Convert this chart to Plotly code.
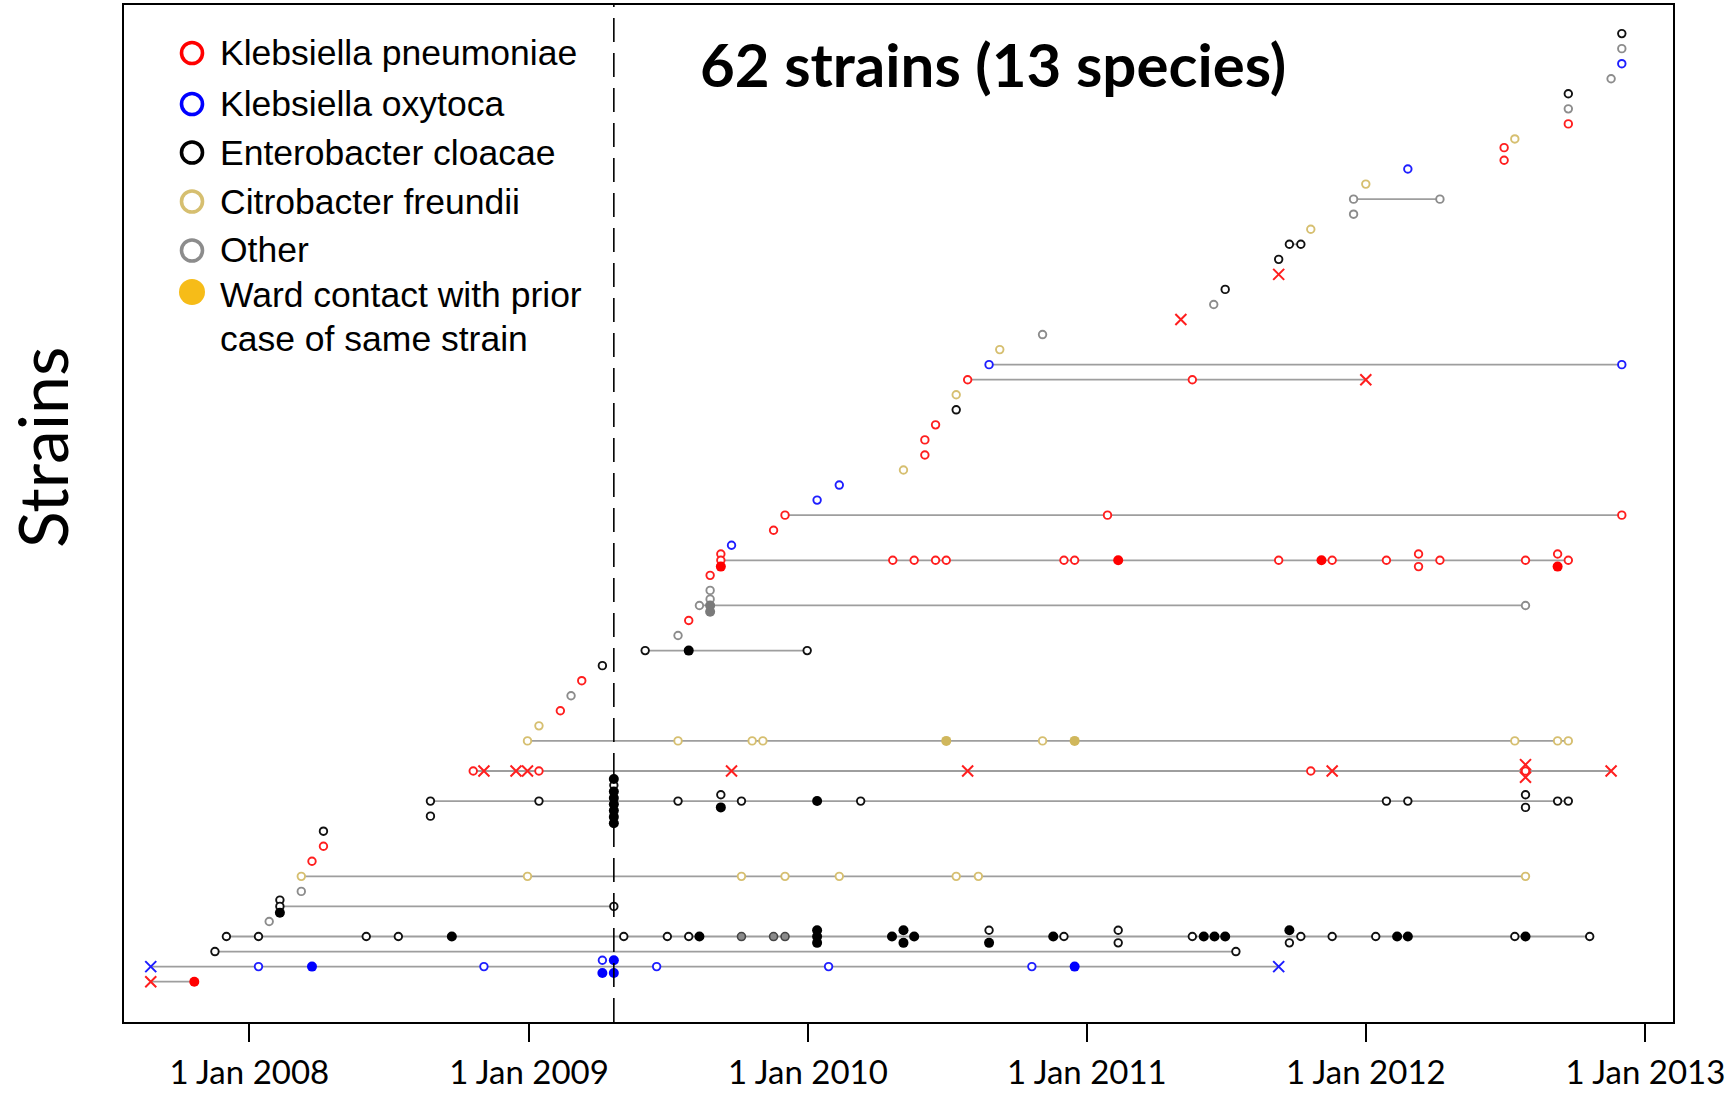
import plotly.graph_objects as go

# ---------------- data ----------------
species_names = ["Klebsiella pneumoniae", "Klebsiella oxytoca", "Enterobacter cloacae",
                 "Citrobacter freundii", "Other"]
species_codes = ["Kp", "Ko", "Ec", "Cf", "Ot"]

title_text = "62 strains (13 species)"
y_title = "Strains"
legend_extra = ["Ward contact with prior", "case of same strain"]

year_ticks = ["2008-01-01", "2009-01-01", "2010-01-01", "2011-01-01", "2012-01-01", "2013-01-01"]
year_labels = ["1 Jan 2008", "1 Jan 2009", "1 Jan 2010", "1 Jan 2011", "1 Jan 2012", "1 Jan 2013"]
intervention_date = "2009-04-22"

# strain row index (bottom = 0) and species
strain_row = [0, 1, 2, 3, 4, 5, 6, 7, 8, 9, 10, 11, 12, 14, 16, 17, 18, 19, 20, 21, 22, 23, 24,
              25, 26, 27, 28, 29, 30, 31, 32, 33, 34, 35, 36, 37, 38, 39, 40, 41, 42, 43, 44, 45,
              46, 47, 48, 49, 50, 51, 52, 53, 54, 55, 56, 57, 58, 59, 60, 61, 62, 63]
strain_species = ["Kp", "Ko", "Ec", "Ec", "Ot", "Ec", "Ot", "Cf", "Kp", "Kp", "Ec", "Ec", "Ec",
                  "Kp", "Cf", "Cf", "Kp", "Ot", "Kp", "Ec", "Ec", "Ot", "Kp", "Ot", "Ot", "Kp",
                  "Kp", "Ko", "Kp", "Kp", "Ko", "Ko", "Cf", "Kp", "Kp", "Kp", "Ec", "Cf", "Kp",
                  "Ko", "Cf", "Ot", "Kp", "Ot", "Ec", "Kp", "Ec", "Ec", "Cf", "Ot", "Ot", "Cf",
                  "Ko", "Kp", "Cf", "Kp", "Ot", "Ec", "Ot", "Ko", "Ot", "Ec"]

# isolate dates per strain; kind: o = isolate, f = ward contact with prior case,
# x = cross-marked isolate, g = grey-filled isolate (spaces only group same-day isolates)
strain_dates = [
    ["2007-08-25", "2007-10-21"],
    ["2007-08-25", "2008-01-13", "2008-03-23", "2008-11-03", "2009-04-07", "2009-04-07",
     "2009-04-22", "2009-04-22", "2009-06-17", "2010-01-28", "2010-10-21", "2010-12-16", "2011-09-09"],
    ["2007-11-17", "2011-07-15"],
    ["2007-12-02", "2008-01-13", "2008-06-02", "2008-07-14", "2008-09-22", "2009-05-05",
     "2009-07-01", "2009-07-29", "2009-08-12", "2009-10-06", "2009-11-17", "2009-12-02",
     "2010-01-13", "2010-01-13", "2010-01-13", "2010-04-21", "2010-05-06", "2010-05-06",
     "2010-05-20", "2010-08-26", "2010-08-26", "2010-11-18", "2010-12-02", "2011-02-11",
     "2011-02-11", "2011-05-19", "2011-06-03", "2011-06-17", "2011-07-01", "2011-09-23",
     "2011-09-23", "2011-10-08", "2011-11-18", "2012-01-14", "2012-02-11", "2012-02-25",
     "2012-07-14", "2012-07-28", "2012-10-20"],
    ["2008-01-27"],
    ["2008-02-10", "2008-02-10", "2008-02-10", "2009-04-22"],
    ["2008-03-09"],
    ["2008-03-09", "2008-12-30", "2009-10-06", "2009-12-02", "2010-02-11", "2010-07-14",
     "2010-08-12", "2012-07-28"],
    ["2008-03-23"],
    ["2008-04-07"],
    ["2008-04-07"],
    ["2008-08-25"],
    ["2008-08-25", "2009-01-14", "2009-04-22", "2009-04-22", "2009-04-22", "2009-04-22",
     "2009-04-22", "2009-04-22", "2009-04-22", "2009-04-22", "2009-07-15", "2009-09-09",
     "2009-09-09", "2009-10-06", "2010-01-13", "2010-03-11", "2012-01-28", "2012-02-25",
     "2012-07-28", "2012-07-28", "2012-09-08", "2012-09-22"],
    ["2008-10-20", "2008-11-03", "2008-12-15", "2008-12-30", "2009-01-14", "2009-09-23",
     "2010-07-29", "2011-10-21", "2011-11-18", "2012-07-28", "2012-07-28", "2012-07-28", "2012-11-17"],
    ["2008-12-30", "2009-07-15", "2009-10-20", "2009-11-03", "2010-07-01", "2010-11-04",
     "2010-12-16", "2012-07-14", "2012-09-08", "2012-09-22"],
    ["2009-01-14"],
    ["2009-02-11"],
    ["2009-02-25"],
    ["2009-03-11"],
    ["2009-04-07"],
    ["2009-06-02", "2009-07-29", "2009-12-31"],
    ["2009-07-15"],
    ["2009-07-29"],
    ["2009-08-12", "2009-08-26", "2009-08-26", "2009-08-26", "2012-07-28"],
    ["2009-08-26"],
    ["2009-08-26"],
    ["2009-09-09", "2009-09-09", "2009-09-09", "2010-04-22", "2010-05-20", "2010-06-17",
     "2010-07-01", "2010-12-02", "2010-12-16", "2011-02-11", "2011-09-09", "2011-11-04",
     "2011-11-18", "2012-01-28", "2012-03-10", "2012-03-10", "2012-04-07", "2012-07-28",
     "2012-09-08", "2012-09-08", "2012-09-22"],
    ["2009-09-23"],
    ["2009-11-17"],
    ["2009-12-02", "2011-01-28", "2012-12-01"],
    ["2010-01-13"],
    ["2010-02-11"],
    ["2010-05-06"],
    ["2010-06-03"],
    ["2010-06-03"],
    ["2010-06-17"],
    ["2010-07-14"],
    ["2010-07-14"],
    ["2010-07-29", "2011-05-19", "2012-01-01"],
    ["2010-08-26", "2012-12-01"],
    ["2010-09-09"],
    ["2010-11-04"],
    ["2011-05-04"],
    ["2011-06-16"],
    ["2011-07-01"],
    ["2011-09-09"],
    ["2011-09-09"],
    ["2011-09-23", "2011-10-08"],
    ["2011-10-21"],
    ["2011-12-16"],
    ["2011-12-16", "2012-04-07"],
    ["2012-01-01"],
    ["2012-02-25"],
    ["2012-06-30", "2012-06-30"],
    ["2012-07-14"],
    ["2012-09-22"],
    ["2012-09-22"],
    ["2012-09-22"],
    ["2012-11-17"],
    ["2012-12-01"],
    ["2012-12-01"],
    ["2012-12-01"],
]
strain_kinds = [
    "x f",
    "x o f o of ff o o o f x",
    "o o",
    "o o o o f o o o f g g g fff f ff f of f o oo o f f f fo o o o f f o f o",
    "o",
    "oof o",
    "o",
    "o o o o o o o o",
    "o", "o", "o", "o",
    "o o foffffff o of o f o o o oo o o",
    "o x x x o x x o x xox x",
    "o o o o f o f o o o",
    "o", "o", "o", "o", "o",
    "o f o",
    "o", "o",
    "o off o",
    "o", "o",
    "oof o o o o o o f o f o o oo o o of o",
    "o", "o",
    "o o o",
    "o", "o", "o", "o", "o", "o", "o", "o",
    "o o x",
    "o o",
    "o", "o", "x", "o", "o", "x", "o",
    "o o",
    "o", "o",
    "o o",
    "o", "o",
    "oo",
    "o", "o", "o", "o", "o", "o", "o", "o",
]

# ---------------- styles ----------------
ring_col = {"Kp": "#FF1E1E", "Ko": "#1E1EFF", "Ec": "#111111", "Cf": "#D6BF70", "Ot": "#8C8C8C"}
fill_col = {"Kp": "#FF0000", "Ko": "#0000FF", "Ec": "#000000", "Cf": "#D0B75C", "Ot": "#7A7A7A"}
legend_col = ["#FF0000", "#0000FF", "#000000", "#D6BF70", "#8C8C8C"]

# plot area in pixels (for the overlay legend axes)
PL, PR, PT, PB = 124, 1673, 5, 1022
W, H = 1729, 1094

fig = go.Figure()

# connecting lines for strains with several dates
lx, ly = [], []
for row, dates in zip(strain_row, strain_dates):
    ds = sorted(set(dates))
    if len(ds) > 1:
        lx += [ds[0], ds[-1], None]
        ly += [row, row, None]
fig.add_trace(go.Scatter(x=lx, y=ly, mode="lines", line=dict(color="#9E9E9E", width=1.8),
                         hoverinfo="skip"))

# points, stacked vertically when same strain on same day
groups = {}
for row, sp, dates, kinds in zip(strain_row, strain_species, strain_dates, strain_kinds):
    kinds = kinds.replace(" ", "")
    assert len(kinds) == len(dates), (row, len(kinds), len(dates))
    bydate = {}
    for d, k in zip(dates, kinds):
        bydate.setdefault(d, []).append(k)
    for d, ks in bydate.items():
        n = len(ks)
        step = 0.84 if n == 2 else 0.42
        for i, k in enumerate(ks):
            y = row + ((n - 1) / 2 - i) * step
            g = groups.setdefault((sp, k), ([], []))
            g[0].append(d)
            g[1].append(y)

order = ["o", "g", "x", "f"]
for k in order:
    for sp in species_codes:
        if (sp, k) not in groups:
            continue
        xs, ys = groups[(sp, k)]
        if k == "o":
            mk = dict(symbol="circle", size=7.5, color="white",
                      line=dict(color=ring_col[sp], width=1.9))
        elif k == "f":
            mk = dict(symbol="circle", size=10, color=fill_col[sp], line=dict(width=0))
        elif k == "g":
            mk = dict(symbol="circle", size=8, color="#8A8A8A", line=dict(color="#444444", width=1.6))
        else:
            mk = dict(symbol="x-thin", size=11, line=dict(color=ring_col[sp], width=2))
        fig.add_trace(go.Scatter(x=xs, y=ys, mode="markers", marker=mk, hoverinfo="skip"))

# legend (drawn in pixel overlay axes)
leg_y = [53, 104, 152.5, 201.5, 250.5]
fig.add_trace(go.Scatter(
    x=[192] * 5, y=leg_y, mode="markers", xaxis="x2", yaxis="y2",
    marker=dict(symbol="circle", size=21, color="white",
                line=dict(color=legend_col, width=3.6)), hoverinfo="skip"))
fig.add_trace(go.Scatter(
    x=[192], y=[292], mode="markers", xaxis="x2", yaxis="y2",
    marker=dict(symbol="circle", size=26, color="#F6BC18", line=dict(width=0)), hoverinfo="skip"))


def px_x(p):
    return (p - PL) / (PR - PL)


def px_y(p):
    return 1 - (p - PT) / (PB - PT)


annotations = []
for name, yy in zip(species_names, leg_y):
    annotations.append(dict(x=px_x(218), y=px_y(yy), xref="paper", yref="paper", text=name,
                            showarrow=False, xanchor="left", yanchor="middle",
                            font=dict(family="Liberation Sans, Arial", size=35.5, color="black")))
for txt, yy in zip(legend_extra, [295, 339]):
    annotations.append(dict(x=px_x(218), y=px_y(yy), xref="paper", yref="paper", text=txt,
                            showarrow=False, xanchor="left", yanchor="middle",
                            font=dict(family="Liberation Sans, Arial", size=35.5, color="black")))
annotations.append(dict(x=px_x(993), y=px_y(64), xref="paper", yref="paper",
                        text="<b>" + title_text + "</b>",
                        showarrow=False, xanchor="center", yanchor="middle",
                        font=dict(family="Lato", size=60, color="black")))
annotations.append(dict(x=px_x(42), y=px_y(448), xref="paper", yref="paper", text=y_title,
                        textangle=-90, showarrow=False, xanchor="center", yanchor="middle",
                        font=dict(family="Lato", size=68, color="black")))

fig.update_layout(
    width=W, height=H,
    margin=dict(l=PL, r=W - PR, t=PT, b=H - PB, autoexpand=False),
    paper_bgcolor="white", plot_bgcolor="white", showlegend=False,
    xaxis=dict(type="date", range=["2007-07-21", "2013-02-06"], tickvals=year_ticks,
               ticktext=year_labels, ticks="outside", ticklen=18, tickwidth=1.5,
               tickcolor="black", showline=True, mirror=True, linecolor="black", linewidth=2,
               showgrid=False, zeroline=False, ticklabelstandoff=2, automargin=False,
               tickfont=dict(family="Lato", size=33, color="black")),
    yaxis=dict(range=[-2.68, 64.9], showticklabels=False, ticks="", showline=True,
               mirror=True, linecolor="black", linewidth=2, showgrid=False, zeroline=False,
               automargin=False),
    xaxis2=dict(overlaying="x", anchor="y2", range=[PL, PR], visible=False),
    yaxis2=dict(overlaying="y", anchor="x2", range=[PB, PT], visible=False),
    annotations=annotations,
    shapes=[dict(type="line", xref="x", yref="paper", x0=intervention_date, x1=intervention_date,
                 y0=0, y1=1, layer="above",
                 line=dict(color="black", width=1.6, dash="24px,11px"))],
)

fig.write_html("out.html")
